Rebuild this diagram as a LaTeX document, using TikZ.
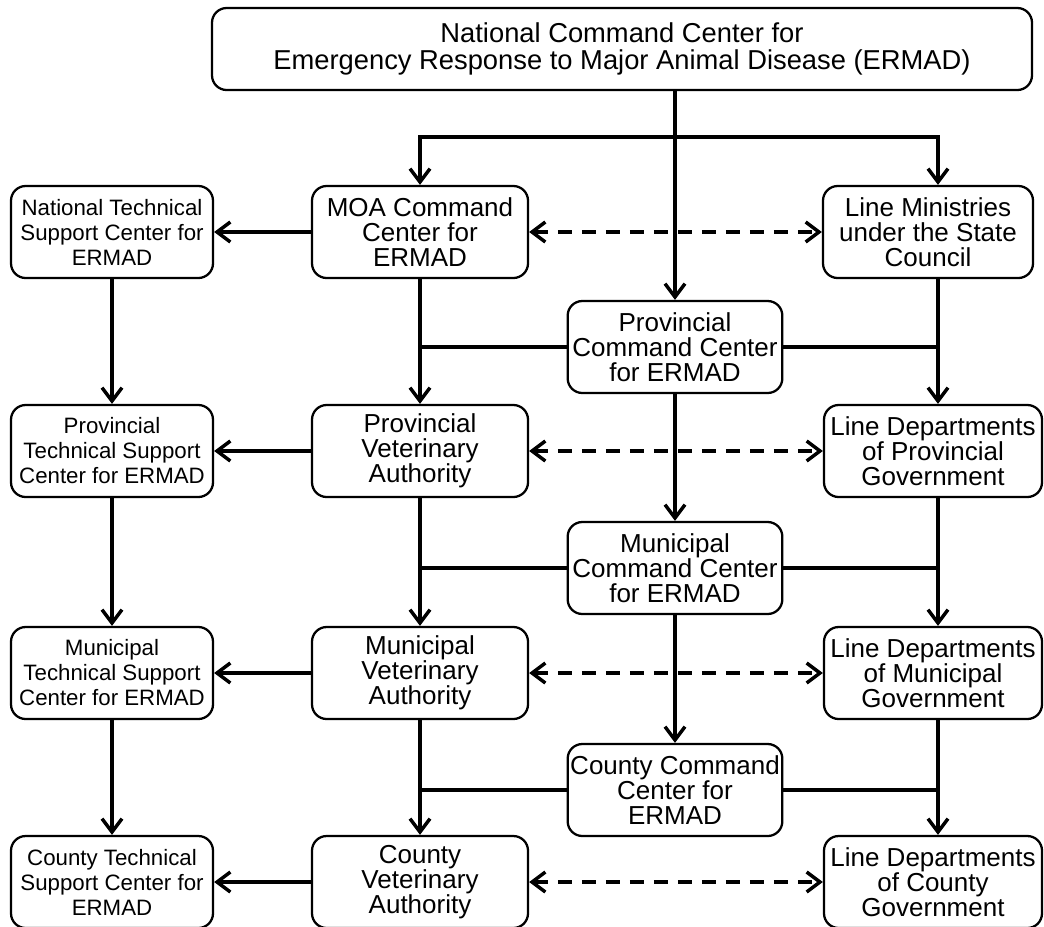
\documentclass[tikz,border=0pt]{standalone}
\usepackage{fontspec}
\setmainfont{Liberation Sans}
\usetikzlibrary{arrows.meta}

\begin{document}
\begin{tikzpicture}[x=0.75pt, y=-0.75pt, line width=2.6pt,
        box/.style={draw, line width=1.7pt, rounded corners=11pt, align=center,
            inner sep=0pt, minimum height=69pt},
        topbox/.style={box, minimum width=615pt, minimum height=61.5pt,
            font=\fontsize{20.5}{20}\selectfont},
        techbox/.style={box, minimum width=151.5pt, font=\fontsize{16.7}{18.75}\selectfont},
        authbox/.style={box, minimum width=162pt, font=\fontsize{19.5}{18.75}\selectfont},
        cmdbox/.style={authbox, minimum width=161pt},
        linebox/.style={authbox, minimum width=163.5pt},
        arr/.style={-{Straight Barb[length=10pt,width=15pt]}},
        biarr/.style={{Straight Barb[length=10pt,width=15pt]}-{Straight Barb[length=10pt,width=15pt]}},
        darr/.style={biarr, dash pattern=on 11pt off 7pt}]
    \useasboundingbox (0,0) rectangle (1044,926);

    % Define helper coordinates
    \coordinate (bus) at (0,137);
    \coordinate (rcol) at (938,0);

    % National center
    \node[topbox] (ncc) at (622,49) {National Command Center for\\Emergency Response to Major Animal Disease (ERMAD)};

    % Row 1
    \node[techbox] (ntsc) at (112,232) {National Technical\\Support Center for\\ERMAD};
    \node[authbox] (moa) at (420,232) {MOA Command\\Center for\\ERMAD};
    \node[linebox, minimum width=157.5pt] (lm) at (928,232) {Line Ministries\\under the State\\Council};

    % Command centers
    \node[cmdbox] (pcc) at (675,347) {Provincial\\Command Center\\for ERMAD};
    \node[cmdbox] (mcc) at (675,568) {Municipal\\Command Center\\for ERMAD};
    \node[cmdbox] (ccc) at (675,790) {County Command\\Center for\\ERMAD};

    % Row 2
    \node[techbox] (ptsc) at (112,451) {Provincial\\Technical Support\\Center for ERMAD};
    \node[authbox] (pva) at (420,451) {Provincial\\Veterinary\\Authority};
    \node[linebox] (ldp) at (933,451) {Line Departments\\of Provincial\\Government};

    % Row 3
    \node[techbox] (mtsc) at (112,673) {Municipal\\Technical Support\\Center for ERMAD};
    \node[authbox] (mva) at (420,673) {Municipal\\Veterinary\\Authority};
    \node[linebox] (ldm) at (933,673) {Line Departments\\of Municipal\\Government};

    % Row 4
    \node[techbox] (ctsc) at (112,882) {County Technical\\Support Center for\\ERMAD};
    \node[authbox] (cva) at (420,882) {County\\Veterinary\\Authority};
    \node[linebox] (ldc) at (933,882) {Line Departments\\of County\\Government};

    % Top level links
    \draw[arr] (ncc.south -| pcc.north) -- (pcc.north);
    \draw[biarr] (moa.north) -- (moa.north |- bus) -- (rcol |- bus) -- (lm.north -| rcol);

    % Command chain
    \draw[arr] (pcc) -- (mcc);
    \draw[arr] (mcc) -- (ccc);

    % Vertical chains
    \draw[arr] (ntsc) -- (ptsc);
    \draw[arr] (ptsc) -- (mtsc);
    \draw[arr] (mtsc) -- (ctsc);
    \draw[arr] (moa) -- (pva);
    \draw[arr] (pva) -- (mva);
    \draw[arr] (mva) -- (cva);
    \draw[arr] (lm.south -| rcol) -- (ldp.north -| rcol);
    \draw[arr] (ldp.south -| rcol) -- (ldm.north -| rcol);
    \draw[arr] (ldm.south -| rcol) -- (ldc.north -| rcol);

    % Command centers joined to the side chains
    \draw (pcc.west) -- (pcc.west -| moa.south);
    \draw (pcc.east) -- (pcc.east -| rcol);
    \draw (mcc.west) -- (mcc.west -| pva.south);
    \draw (mcc.east) -- (mcc.east -| rcol);
    \draw (ccc.west) -- (ccc.west -| mva.south);
    \draw (ccc.east) -- (ccc.east -| rcol);

    % Technical support links
    \draw[arr] (moa) -- (ntsc);
    \draw[arr] (pva) -- (ptsc);
    \draw[arr] (mva) -- (mtsc);
    \draw[arr] (cva) -- (ctsc);

    % Coordination with line departments
    \draw[darr] (moa) -- (lm);
    \draw[darr] (pva) -- (ldp);
    \draw[darr] (mva) -- (ldm);
    \draw[darr] (cva) -- (ldc);
\end{tikzpicture}
\end{document}
